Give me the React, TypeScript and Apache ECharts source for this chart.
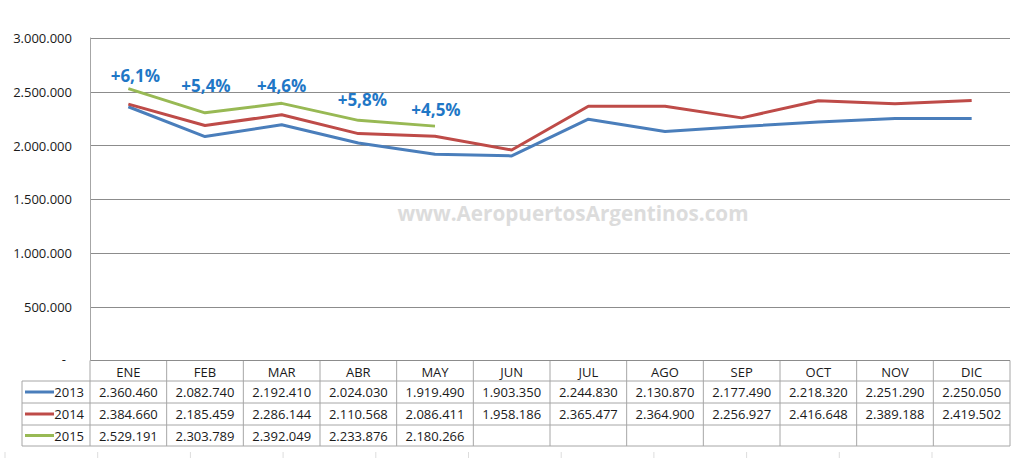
import React, { useEffect, useRef } from "react";
import * as echarts from "echarts";

const months = ["ENE", "FEB", "MAR", "ABR", "MAY", "JUN", "JUL", "AGO", "SEP", "OCT", "NOV", "DIC"];
const seriesNames = ["2013", "2014", "2015"];
const data2013 = [2360460, 2082740, 2192410, 2024030, 1919490, 1903350, 2244830, 2130870, 2177490, 2218320, 2251290, 2250050];
const data2014 = [2384660, 2185459, 2286144, 2110568, 2086411, 1958186, 2365477, 2364900, 2256927, 2416648, 2389188, 2419502];
const data2015 = [2529191, 2303789, 2392049, 2233876, 2180266];
const growth2015 = ["+6,1%", "+5,4%", "+4,6%", "+5,8%", "+4,5%"];
const labelOffsets = [[7, -13], [1, -27], [0, -18], [4, -21], [1, -17]];
const colors = ["#4A7EBB", "#BE4B48", "#98B954"];
const watermark = "www.AeropuertosArgentinos.com";

const FONT = "'Open Sans', 'Noto Sans', sans-serif";

function fmt(v: number): string {
  const s = Math.round(v).toString();
  return s.replace(/\B(?=(\d{3})+(?!\d))/g, ".");
}

export default function App() {
  const ref = useRef<HTMLDivElement>(null);
  useEffect(() => {
    if (!ref.current) return;
    const chart = echarts.init(ref.current, undefined, { renderer: "svg" });
    const W = 1024;
    const gridLeft = 90;
    const gridRight = 14;
    const gridTop = 38;
    const gridBottom = 97.5;
    const plotRight = W - gridRight;
    const axisY = 458 - gridBottom;
    const colW = (plotRight - gridLeft) / months.length;
    const rowTops = [axisY, 381, 403, 425, 446];
    const tableLeft = 22;
    const lineColor = "#A6A6A6";
    const allData = [data2013, data2014, data2015];

    const graphics: any[] = [];
    graphics.push({ type: "line", shape: { x1: gridLeft, y1: rowTops[0], x2: plotRight, y2: rowTops[0] }, style: { stroke: lineColor, lineWidth: 1 } });
    for (let r = 1; r < rowTops.length; r++) {
      graphics.push({ type: "line", shape: { x1: tableLeft, y1: rowTops[r], x2: plotRight, y2: rowTops[r] }, style: { stroke: lineColor, lineWidth: 1 } });
    }
    graphics.push({ type: "line", shape: { x1: tableLeft, y1: rowTops[1], x2: tableLeft, y2: rowTops[4] }, style: { stroke: lineColor, lineWidth: 1 } });
    for (let i = 0; i <= months.length; i++) {
      const x = gridLeft + i * colW;
      graphics.push({ type: "line", shape: { x1: x, y1: rowTops[0], x2: x, y2: rowTops[4] }, style: { stroke: lineColor, lineWidth: 1 } });
    }
    allData.forEach((arr, r) => {
      const cy = (rowTops[r + 1] + rowTops[r + 2]) / 2;
      graphics.push({ type: "line", shape: { x1: 25, y1: cy, x2: 54, y2: cy }, style: { stroke: colors[r], lineWidth: 3 } });
      graphics.push({ type: "text", x: 84, y: cy, style: { text: seriesNames[r], font: `13px ${FONT}`, fill: "#1a1a1a", align: "right", verticalAlign: "middle" } });
      arr.forEach((v, i) => {
        graphics.push({ type: "text", x: gridLeft + (i + 0.5) * colW, y: cy, style: { text: fmt(v), font: `13px ${FONT}`, fill: "#1a1a1a", align: "center", verticalAlign: "middle" } });
      });
    });
    graphics.push({ type: "text", x: 573, y: 213, z: -1, style: { text: watermark, font: `bold 20.7px ${FONT}`, fill: "#DCDCDC", align: "center", verticalAlign: "middle" } });
    for (let i = 0; i < 11; i++) {
      const x = 5 + i * 92.7;
      graphics.push({ type: "line", shape: { x1: x, y1: 452, x2: x, y2: 458 }, style: { stroke: "#DDDDDD", lineWidth: 1 } });
    }

    const option: any = {
      animation: false,
      backgroundColor: "#ffffff",
      grid: { left: gridLeft, right: gridRight, top: gridTop, bottom: gridBottom, containLabel: false },
      xAxis: {
        type: "category",
        data: months,
        boundaryGap: true,
        axisLine: { show: false },
        axisTick: { show: false },
        axisLabel: { color: "#1a1a1a", fontSize: 13, fontFamily: FONT, margin: 3, verticalAlign: "top", lineHeight: 16 },
        splitLine: { show: false },
      },
      yAxis: {
        type: "value",
        min: 0,
        max: 3000000,
        interval: 500000,
        axisLine: { show: true, lineStyle: { color: lineColor, width: 1 } },
        axisTick: { show: false },
        axisLabel: {
          color: "#1a1a1a",
          fontSize: 13,
          fontFamily: FONT,
          margin: 18,
          formatter: (v: number) => (v === 0 ? "{z|-}" : fmt(v)),
          rich: { z: { fontSize: 13, fontFamily: FONT, color: "#1a1a1a", padding: [0, 6, 4, 0] } },
        },
        splitLine: { show: true, lineStyle: { color: "#8C8C8C", width: 1 } },
      },
      series: [
        {
          name: seriesNames[0],
          type: "line",
          data: data2013,
          symbol: "none",
          lineStyle: { color: colors[0], width: 3 },
          z: 3,
        },
        {
          name: seriesNames[1],
          type: "line",
          data: data2014,
          symbol: "none",
          lineStyle: { color: colors[1], width: 3 },
          z: 4,
        },
        {
          name: seriesNames[2],
          type: "line",
          data: data2015.map((v, i) => ({
            value: v,
            label: { show: true, formatter: growth2015[i], offset: labelOffsets[i] },
          })),
          symbol: "circle",
          symbolSize: 1,
          itemStyle: { color: "rgba(0,0,0,0)" },
          lineStyle: { color: colors[2], width: 3 },
          label: { show: true, position: "inside", color: "#1F77C6", fontSize: 17, fontWeight: "bold", fontFamily: FONT },
          z: 5,
        },
      ],
      graphic: graphics,
    };
    chart.setOption(option);
    return () => chart.dispose();
  }, []);
  return <div ref={ref} style={{ position: "fixed", left: 0, top: 0, width: 1024, height: 458 }} />;
}
